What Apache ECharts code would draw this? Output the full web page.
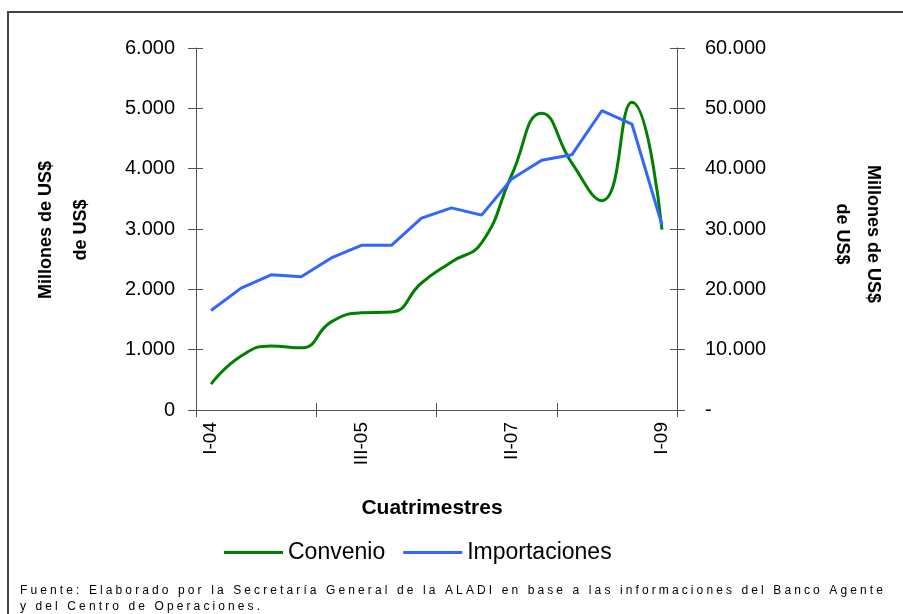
<!DOCTYPE html>
<html>
<head>
<meta charset="utf-8">
<script src="https://cdn.jsdelivr.net/npm/echarts@6/dist/echarts.min.js"></script>
<style>
html,body{margin:0;padding:0;background:#fff;}
#main{width:903px;height:614px;}
</style>
</head>
<body>
<div id="main"></div>
<script>
// ---- data ----
const categories = ['I-04','II-04','III-04','I-05','II-05','III-05','I-06','II-06','III-06','I-07','II-07','III-07','I-08','II-08','III-08','I-09'];
const convenio = [430, 895, 1060, 1030, 1460, 1610, 1625, 2105, 2455, 2770, 3895, 4920, 4095, 3470, 5100, 2990];
const importaciones = [16500, 20200, 22400, 22100, 25200, 27300, 27300, 31800, 33500, 32300, 38300, 41400, 42300, 49600, 47400, 30700];
const leftTicks = [0, 6000, 1000];
const rightTicks = [0, 60000, 10000];
const seriesNames = ['Convenio', 'Importaciones'];
const axisNameText = 'Millones de US$\nde US$';
const xTitle = 'Cuatrimestres';
const footer1 = 'Fuente: Elaborado por la Secretaría General de la ALADI en base a las informaciones del Banco Agente';
const footer2 = 'y del Centro de Operaciones.';

function fmt(v){ return String(v).replace(/\B(?=(\d{3})+(?!\d))/g, '.'); }

const FONT = "'Liberation Sans', Arial, sans-serif";
const FOOT_FONT = "12px 'Liberation Sans', Arial, sans-serif";
const AX = '#555';

// spaced-out footer text (the source uses wide character spacing)
const mctx = document.createElement('canvas').getContext('2d');
mctx.font = FOOT_FONT;
const footSpacing = Math.max(0, (863 - mctx.measureText(footer1).width) / (footer1.length - 1));
const spacedTexts = new Set([footer1, footer2]);
const origFillText = CanvasRenderingContext2D.prototype.fillText;
CanvasRenderingContext2D.prototype.fillText = function(t, x, y, m) {
  if (spacedTexts.has(t) && 'letterSpacing' in this) {
    this.save();
    this.letterSpacing = footSpacing.toFixed(2) + 'px';
    this.font = this.font;
    origFillText.call(this, t, x, y);
    this.restore();
    return;
  }
  if (m === undefined) return origFillText.call(this, t, x, y);
  return origFillText.call(this, t, x, y, m);
};

const chart = echarts.init(document.getElementById('main'), null, {renderer:'canvas'});
chart.setOption({
  animation: false,
  backgroundColor: '#fff',
  textStyle: {fontFamily: FONT},
  grid: {left: 196, right: 226, top: 48, bottom: 204, containLabel: false},
  legend: {
    data: seriesNames,
    left: 224, top: 541, padding: 0,
    icon: 'rect', itemWidth: 59, itemHeight: 3, itemGap: 18,
    textStyle: {fontSize: 23, color: '#000', fontFamily: FONT}
  },
  xAxis: [
    {
      type: 'category', data: categories, boundaryGap: true, position: 'bottom',
      axisLine: {show: true, lineStyle: {color: AX, width: 1}},
      axisTick: {show: true, interval: 3, length: 7, lineStyle: {color: AX}},
      axisLabel: {interval: 4, rotate: 90, fontSize: 19, color: '#000', margin: 12, fontFamily: FONT},
      splitLine: {show: false}
    },
    {
      type: 'category', data: categories, boundaryGap: true, position: 'bottom',
      axisLine: {show: false},
      axisTick: {show: true, inside: true, interval: 3, length: 7, lineStyle: {color: AX}},
      axisLabel: {show: false}, splitLine: {show: false}
    }
  ],
  yAxis: [
    {
      type: 'value', position: 'left', min: leftTicks[0], max: leftTicks[1], interval: leftTicks[2],
      axisLine: {show: true, lineStyle: {color: AX}},
      axisTick: {show: true, length: 8, lineStyle: {color: AX}},
      axisLabel: {fontSize: 20, color: '#000', margin: 21, formatter: v => fmt(v), fontFamily: FONT},
      splitLine: {show: false}
    },
    {
      type: 'value', position: 'right', min: rightTicks[0], max: rightTicks[1], interval: rightTicks[2],
      axisLine: {show: true, lineStyle: {color: AX}},
      axisTick: {show: true, length: 8, lineStyle: {color: AX}},
      axisLabel: {fontSize: 20, color: '#000', margin: 28, formatter: v => (v === 0 ? '-' : fmt(v)), fontFamily: FONT},
      splitLine: {show: false}
    },
    {
      type: 'value', position: 'left', min: leftTicks[0], max: leftTicks[1], interval: leftTicks[2],
      axisLine: {show: false}, axisTick: {show: true, inside: true, length: 7, lineStyle: {color: AX}},
      axisLabel: {show: false}, splitLine: {show: false}
    },
    {
      type: 'value', position: 'right', min: rightTicks[0], max: rightTicks[1], interval: rightTicks[2],
      axisLine: {show: false}, axisTick: {show: true, inside: true, length: 7, lineStyle: {color: AX}},
      axisLabel: {show: false}, splitLine: {show: false}
    }
  ],
  series: [
    {
      name: seriesNames[0], type: 'line', data: convenio, yAxisIndex: 0, xAxisIndex: 0,
      smooth: 0.5, showSymbol: false, symbol: 'none',
      lineStyle: {color: '#008000', width: 3}, itemStyle: {color: '#008000'}
    },
    {
      name: seriesNames[1], type: 'line', data: importaciones, yAxisIndex: 1, xAxisIndex: 0,
      smooth: false, showSymbol: false, symbol: 'none',
      lineStyle: {color: '#3366ff', width: 3}, itemStyle: {color: '#3366ff'}
    }
  ],
  graphic: [
    {type: 'rect', shape: {x: 8, y: 12, width: 910, height: 640}, style: {fill: 'none', stroke: '#444', lineWidth: 2}, silent: true},
    {type: 'text', x: 64, y: 230, rotation: Math.PI/2,
     style: {text: axisNameText, textAlign: 'center', textVerticalAlign: 'middle', lineHeight: 35, fill: '#000', font: "bold 18px " + FONT}},
    {type: 'text', x: 857, y: 234, rotation: -Math.PI/2,
     style: {text: axisNameText, textAlign: 'center', textVerticalAlign: 'middle', lineHeight: 31, fill: '#000', font: "bold 18px " + FONT}},
    {type: 'text', x: 432, y: 508,
     style: {text: xTitle, textAlign: 'center', textVerticalAlign: 'middle', fill: '#000', font: "bold 21px " + FONT}},
    {type: 'text', x: 20, y: 591,
     style: {text: footer1, textAlign: 'left', textVerticalAlign: 'middle', fill: '#000', font: FOOT_FONT}},
    {type: 'text', x: 20, y: 607,
     style: {text: footer2, textAlign: 'left', textVerticalAlign: 'middle', fill: '#000', font: FOOT_FONT}}
  ]
});
</script>
</body>
</html>
